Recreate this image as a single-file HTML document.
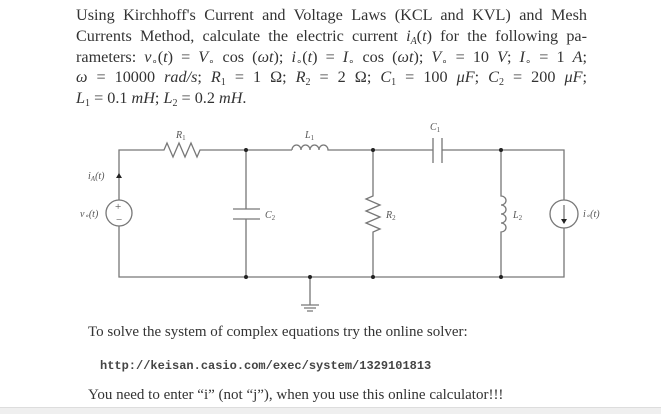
<!DOCTYPE html>
<html><head><meta charset="utf-8"><style>
body{margin:0;background:#fff;width:661px;height:413px;overflow:hidden;position:relative;font-family:"Liberation Serif",serif;color:#333}
.l{position:absolute;left:76px;width:511px;font-size:16.2px;line-height:20px;height:20px;text-align:justify;text-align-last:justify;white-space:nowrap;overflow:visible}
.l.last{text-align-last:left}
sub{font-size:10px;line-height:0;vertical-align:-3px}
.t{position:absolute;font-size:15px;white-space:nowrap}
.bar{position:absolute;left:0;top:407px;width:661px;height:6px;background:#efefef;border-top:1px solid #ddd}
i{font-style:italic}
</style></head><body>
<div class="l" style="top:5px;white-space:normal">Using Kirchhoff's Current and Voltage Laws (KCL and KVL) and Mesh</div>
<div class="l" style="top:26px;white-space:normal">Currents Method, calculate the electric current <i>i<sub>A</sub></i>(<i>t</i>) for the following pa-</div>
<div class="l" style="top:47px;white-space:normal">rameters: <i>v</i><sub>∘</sub>(<i>t</i>) = <i>V</i><sub>∘</sub> cos (<i>ωt</i>); <i>i</i><sub>∘</sub>(<i>t</i>) = <i>I</i><sub>∘</sub> cos (<i>ωt</i>); <i>V</i><sub>∘</sub> = 10 <i>V</i>; <i>I</i><sub>∘</sub> = 1 <i>A</i>;</div>
<div class="l" style="top:67px;white-space:normal"><i>ω</i> = 10000 <i>rad/s</i>; <i>R</i><sub>1</sub> = 1 Ω; <i>R</i><sub>2</sub> = 2 Ω; <i>C</i><sub>1</sub> = 100 <i>μF</i>; <i>C</i><sub>2</sub> = 200 <i>μF</i>;</div>
<div class="l last" style="top:88px"><i>L</i><sub>1</sub> = 0.1 <i>mH</i>; <i>L</i><sub>2</sub> = 0.2 <i>mH</i>.</div>
<svg width="661" height="413" style="position:absolute;left:0;top:0" font-family="Liberation Serif" font-style="italic" font-size="10" fill="#555">
<g stroke="#777" stroke-width="1.3" fill="none">
<path d="M119 200V150H164l3 -7 6 14 6 -14 6 14 6 -14 6 14 3 -7H292"/>
<path d="M292 150a4.5 5 0 0 1 9 0a4.5 5 0 0 1 9 0a4.5 5 0 0 1 9 0a4.5 5 0 0 1 9 0H433M442 150H564V200M564 228V277H119V226"/>
<path d="M433 138V163M442 138V163"/>
<path d="M246 150V209M246 219V277M233 209H260M233 219H260"/>
<path d="M373 150V196l-7 3 14 6 -14 6 14 6 -14 6 14 6 -7 3V277"/>
<path d="M501 150V196a5 4.5 0 0 1 0 9a5 4.5 0 0 1 0 9a5 4.5 0 0 1 0 9a5 4.5 0 0 1 0 9V277"/>
<path d="M310 277V305M301 305H319M304 308H316M307 311H313"/>
<circle cx="119" cy="213" r="13"/>
<circle cx="564" cy="214" r="14"/>
<path d="M564 205V221"/>
</g>
<g fill="#222">
<circle cx="246" cy="150" r="2"/><circle cx="373" cy="150" r="2"/><circle cx="501" cy="150" r="2"/>
<circle cx="246" cy="277" r="2"/><circle cx="310" cy="277" r="2"/><circle cx="373" cy="277" r="2"/><circle cx="501" cy="277" r="2"/>
<path d="M116 178L119 173 122 178Z"/><path d="M561 219L564 224 567 219Z"/>
</g>
<g font-style="normal" font-size="11" fill="#555"><text x="115" y="210">+</text><text x="116" y="223">−</text></g>
<text x="176" y="138">R<tspan font-size="7" font-style="normal" dy="2">1</tspan></text>
<text x="305" y="138">L<tspan font-size="7" font-style="normal" dy="2">1</tspan></text>
<text x="430" y="130">C<tspan font-size="7" font-style="normal" dy="2">1</tspan></text>
<text x="265" y="218">C<tspan font-size="7" font-style="normal" dy="2">2</tspan></text>
<text x="386" y="218">R<tspan font-size="7" font-style="normal" dy="2">2</tspan></text>
<text x="513" y="218">L<tspan font-size="7" font-style="normal" dy="2">2</tspan></text>
<text x="583" y="217">i<tspan font-size="7" dy="1">∘</tspan><tspan dy="-1">(t)</tspan></text>
<text x="80" y="217">v<tspan font-size="7" dy="1">∘</tspan><tspan dy="-1">(t)</tspan></text>
<text x="88" y="179">i<tspan font-size="7" dy="2">A</tspan><tspan dy="-2">(t)</tspan></text>
</svg>
<div class="t" style="left:88px;top:324px">To solve the system of complex equations try the online solver:</div>
<div class="t" style="left:100px;top:359px;font-family:'Liberation Mono',monospace;font-size:12px;font-weight:bold;color:#444">http://keisan.casio.com/exec/system/1329101813</div>
<div class="t" style="left:88px;top:387px">You need to enter “i” (not “j”), when you use this online calculator!!!</div>
<div class="bar"></div>
</body></html>
